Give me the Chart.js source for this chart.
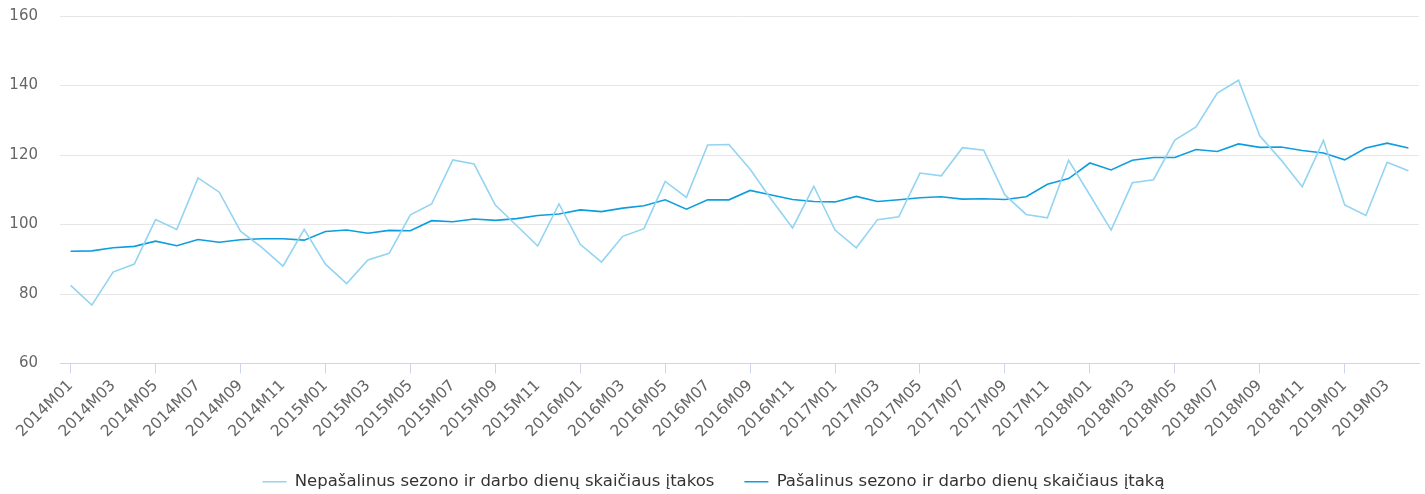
<!DOCTYPE html>
<html>
<head>
<meta charset="utf-8">
<script src="https://cdn.jsdelivr.net/npm/chart.js@4"></script>
<style>
  html, body { margin: 0; padding: 0; background: #fff; }
  #wrap { width: 1425px; height: 494px; position: relative; }
</style>
</head>
<body>
<div id="wrap"><canvas id="chart"></canvas></div>
<script>
const months = [
  '2014M01','2014M02','2014M03','2014M04','2014M05','2014M06','2014M07','2014M08','2014M09','2014M10','2014M11','2014M12',
  '2015M01','2015M02','2015M03','2015M04','2015M05','2015M06','2015M07','2015M08','2015M09','2015M10','2015M11','2015M12',
  '2016M01','2016M02','2016M03','2016M04','2016M05','2016M06','2016M07','2016M08','2016M09','2016M10','2016M11','2016M12',
  '2017M01','2017M02','2017M03','2017M04','2017M05','2017M06','2017M07','2017M08','2017M09','2017M10','2017M11','2017M12',
  '2018M01','2018M02','2018M03','2018M04','2018M05','2018M06','2018M07','2018M08','2018M09','2018M10','2018M11','2018M12',
  '2019M01','2019M02','2019M03','2019M04'
];

// Nepašalinus sezono ir darbo dienų skaičiaus įtakos
const unadjusted = [
  82.5, 76.8, 86.3, 88.6, 101.4, 98.6, 113.4, 109.3, 98.1, 93.4, 88.0, 98.6,
  88.6, 83.0, 89.8, 91.7, 102.8, 105.9, 118.6, 117.4, 105.6, 99.7, 93.8, 105.9,
  94.3, 89.2, 96.6, 98.8, 112.4, 107.8, 122.9, 123.0, 115.9, 107.2, 99.0, 111.0,
  98.4, 93.3, 101.4, 102.2, 114.8, 114.0, 122.1, 121.4, 108.5, 102.9, 101.9, 118.5,
  108.5, 98.4, 112.0, 112.9, 124.3, 128.1, 137.8, 141.5, 125.5, 118.6, 110.9, 124.2,
  105.6, 102.6, 117.9, 115.5
];

// Pašalinus sezono ir darbo dienų skaičiaus įtaką
const adjusted = [
  92.3, 92.4, 93.3, 93.7, 95.2, 93.9, 95.7, 94.9, 95.6, 95.9, 95.9, 95.5,
  98.0, 98.4, 97.5, 98.3, 98.2, 101.1, 100.8, 101.6, 101.2, 101.7, 102.6, 103.0,
  104.2, 103.7, 104.7, 105.4, 107.1, 104.4, 107.1, 107.1, 109.8, 108.5, 107.2, 106.6,
  106.5, 108.1, 106.6, 107.1, 107.7, 108.0, 107.3, 107.4, 107.2, 108.0, 111.6, 113.2,
  117.7, 115.7, 118.5, 119.3, 119.3, 121.6, 121.0, 123.2, 122.2, 122.3, 121.3, 120.6,
  118.6, 122.0, 123.4, 122.0
];

const FONT = '"DejaVu Sans", Verdana, sans-serif';

const ctx = document.getElementById('chart').getContext('2d');
new Chart(ctx, {
  type: 'line',
  data: {
    labels: months,
    datasets: [{
      label: 'Nepašalinus sezono ir darbo dienų skaičiaus įtakos',
      data: unadjusted,
      borderColor: '#92d4f2',
      backgroundColor: '#92d4f2',
      borderWidth: 1.6,
      pointRadius: 0,
      tension: 0
    }, {
      label: 'Pašalinus sezono ir darbo dienų skaičiaus įtaką',
      data: adjusted,
      borderColor: '#0e9ee0',
      backgroundColor: '#0e9ee0',
      borderWidth: 1.6,
      pointRadius: 0,
      tension: 0
    }]
  },
  options: {
    animation: false,
    responsive: true,
    maintainAspectRatio: false,
    layout: {
      padding: { top: 16, left: 8, right: 6, bottom: -6 }
    },
    plugins: {
      legend: {
        position: 'bottom',
        labels: {
          usePointStyle: true,
          pointStyle: 'line',
          pointStyleWidth: 24,
          padding: 30,
          color: '#333',
          font: { family: FONT, size: 16.5 }
        }
      },
      tooltip: { enabled: false }
    },
    scales: {
      x: {
        offset: true,
        border: { display: true, color: '#ccd6eb', width: 1 },
        grid: {
          drawOnChartArea: false,
          drawTicks: true,
          tickLength: 10,
          offset: false,
          color: (c) => (c.index % 2 === 0 ? '#ccd6eb' : 'rgba(0,0,0,0)')
        },
        ticks: {
          autoSkip: false,
          maxRotation: 45,
          minRotation: 45,
          color: '#666',
          font: { family: FONT, size: 15.5 },
          padding: 3,
          callback: function(value, index) {
            return index % 2 === 0 ? this.getLabelForValue(value) : null;
          }
        },
        afterFit: function(scale) {
          scale.paddingLeft = 0;
          scale.paddingRight = 0;
          scale.height = 80;
        }
      },
      y: {
        min: 60,
        max: 160,
        border: { display: false },
        grid: { color: '#e6e6e6', drawTicks: false },
        ticks: {
          stepSize: 20,
          color: '#666',
          font: { family: FONT, size: 15 },
          padding: 22
        },
        afterFit: function(scale) {
          scale.paddingTop = 0;
          scale.paddingBottom = 0;
          scale.width = 52;
        }
      }
    }
  }
});
</script>
</body>
</html>
